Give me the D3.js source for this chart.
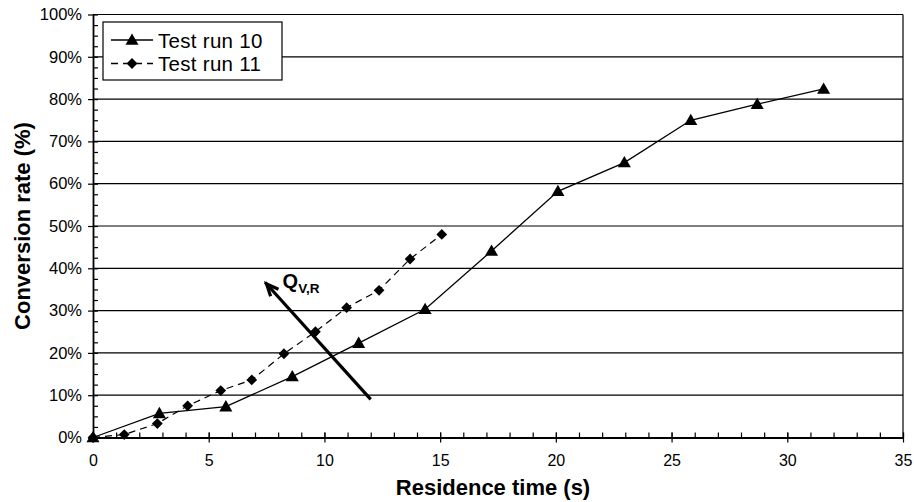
<!DOCTYPE html>
<html>
<head>
<meta charset="utf-8">
<script src="https://cdn.jsdelivr.net/npm/d3@7"></script>
<style>
  body { margin: 0; background: #fff; }
  svg { display: block; font-family: 'Liberation Sans', Arial, Helvetica, sans-serif; }
</style>
</head>
<body>
<div class="Canvas"></div>
<script>
// chart data
const run10Time = [0, 2.87, 5.74, 8.61, 11.48, 14.35, 17.22, 20.09, 22.96, 25.83, 28.7, 31.57];
const run10Conv = [0, 5.7, 7.3, 14.4, 22.3, 30.3, 44.1, 58.2, 65.0, 75.0, 78.8, 82.4];
const run11Time = [0, 1.35, 2.78, 4.09, 5.52, 6.86, 8.25, 9.61, 10.96, 12.36, 13.7, 15.07];
const run11Conv = [0, 0.7, 3.3, 7.5, 11.1, 13.6, 19.8, 25.0, 30.7, 34.8, 42.2, 48.0];
const seriesNames = ['Test run 10', 'Test run 11'];
const xTicks = [0, 5, 10, 15, 20, 25, 30, 35];
const yTicks = [0, 10, 20, 30, 40, 50, 60, 70, 80, 90, 100];
// arrow annotation (data units): from -> to
const arrowFrom = [12.0, 9.0];
const arrowTo = [7.5, 36.3];

const width = 914;
const height = 502;
const margin = { top: 14.5, right: 11, bottom: 64.5, left: 93 };
const innerW = width - margin.left - margin.right;
const innerH = height - margin.top - margin.bottom;

const svg = d3.select('.Canvas').append('svg').attr('width', width).attr('height', height);
const g = svg.append('g').attr('transform', `translate(${margin.left},${margin.top})`);

const x = d3.scaleLinear().domain([0, 35]).range([0, innerW]);
const y = d3.scaleLinear().domain([0, 100]).range([innerH, 0]);

// gridlines
g.append('g')
  .selectAll('line')
  .data(yTicks)
  .enter()
  .append('line')
  .attr('x1', 0)
  .attr('x2', innerW)
  .attr('y1', (d) => y(d))
  .attr('y2', (d) => y(d))
  .attr('stroke', '#000')
  .attr('stroke-width', 1.2);

// frame right side
g.append('line')
  .attr('x1', innerW).attr('x2', innerW)
  .attr('y1', 0).attr('y2', innerH)
  .attr('stroke', '#000').attr('stroke-width', 1.2);

// minor ticks
g.append('g')
  .attr('transform', `translate(0,${innerH})`)
  .call(d3.axisBottom(x).tickValues(d3.range(0, 36, 1)).tickSize(-5).tickFormat(''))
  .call((a) => a.select('.domain').remove());
g.append('g')
  .call(d3.axisLeft(y).tickValues(d3.range(0, 101, 2.5)).tickSize(-5).tickFormat(''))
  .call((a) => a.select('.domain').remove());

// major axes
const xAxis = g.append('g')
  .attr('transform', `translate(0,${innerH})`)
  .call(d3.axisBottom(x).tickValues(xTicks).tickSizeInner(5).tickSizeOuter(0).tickPadding(12));
xAxis.selectAll('.tick line').attr('y1', -5);
xAxis.selectAll('text').attr('font-size', '16px').attr('fill', '#000');

const yAxis = g.append('g')
  .call(d3.axisLeft(y).tickValues(yTicks).tickSizeInner(5).tickSizeOuter(0).tickPadding(6).tickFormat((d) => d + '%'));
yAxis.selectAll('text').attr('font-size', '16.5px').attr('fill', '#000');

svg.selectAll('.domain').attr('stroke-width', 1.8);
svg.selectAll('.tick line').attr('stroke-width', 1.2);

// axis titles
svg.append('text')
  .attr('x', 493)
  .attr('y', 495)
  .attr('text-anchor', 'middle')
  .attr('font-size', '22px')
  .attr('font-weight', 'bold')
  .text('Residence time (s)');
svg.append('text')
  .attr('transform', `translate(30,${margin.top + innerH / 2}) rotate(-90)`)
  .attr('text-anchor', 'middle')
  .attr('font-size', '22px')
  .attr('font-weight', 'bold')
  .text('Conversion rate (%)');

// series
const run10 = run10Time.map((t, i) => ({ t: t, c: run10Conv[i] }));
const run11 = run11Time.map((t, i) => ({ t: t, c: run11Conv[i] }));
const line = d3.line().x((d) => x(d.t)).y((d) => y(d.c));

const triangle = d3.symbol().type(d3.symbolTriangle).size(74);
const diamond = d3.symbol().type(d3.symbolSquare).size(58);

g.append('path')
  .datum(run11)
  .attr('d', line)
  .attr('fill', 'none')
  .attr('stroke', '#000')
  .attr('stroke-width', 1.2)
  .attr('stroke-dasharray', '7,5');
g.append('path')
  .datum(run10)
  .attr('d', line)
  .attr('fill', 'none')
  .attr('stroke', '#000')
  .attr('stroke-width', 1.3);

g.append('g')
  .selectAll('path')
  .data(run11)
  .enter()
  .append('path')
  .attr('d', diamond)
  .attr('transform', (d) => `translate(${x(d.t)},${y(d.c)}) rotate(45)`)
  .attr('fill', '#000');
g.append('g')
  .selectAll('path')
  .data(run10)
  .enter()
  .append('path')
  .attr('d', triangle)
  .attr('transform', (d) => `translate(${x(d.t)},${y(d.c) + 1})`)
  .attr('fill', '#000');

// arrow annotation
const ax1 = x(arrowFrom[0]), ay1 = y(arrowFrom[1]);
const ax2 = x(arrowTo[0]), ay2 = y(arrowTo[1]);
const ang = Math.atan2(ay2 - ay1, ax2 - ax1);
const headLen = 13;
const headSpread = 0.42;
g.append('line')
  .attr('x1', ax1).attr('y1', ay1)
  .attr('x2', ax2 + 2 * Math.cos(ang)).attr('y2', ay2 + 2 * Math.sin(ang))
  .attr('stroke', '#000').attr('stroke-width', 3.2);
g.append('path')
  .attr('d', `M${ax2 - headLen * Math.cos(ang - headSpread)},${ay2 - headLen * Math.sin(ang - headSpread)}` +
    `L${ax2},${ay2}` +
    `L${ax2 - headLen * Math.cos(ang + headSpread)},${ay2 - headLen * Math.sin(ang + headSpread)}`)
  .attr('fill', 'none')
  .attr('stroke', '#000')
  .attr('stroke-width', 3.2)
  .attr('stroke-linejoin', 'miter');

const qLabel = g.append('text')
  .attr('x', ax2 + 16)
  .attr('y', ay2 + 4)
  .attr('font-weight', 'bold')
  .attr('font-size', '20px');
qLabel.append('tspan').text('Q');
qLabel.append('tspan').attr('font-size', '13.5px').attr('dy', 5).text('V,R');

// legend
const legend = svg.append('g').attr('transform', 'translate(103,22)');
legend.append('rect')
  .attr('width', 179)
  .attr('height', 58)
  .attr('fill', '#fff')
  .attr('stroke', '#000')
  .attr('stroke-width', 1.2);
seriesNames.forEach((name, i) => {
  const row = legend.append('g').attr('transform', `translate(0,${18 + i * 23.5})`);
  row.append('line')
    .attr('x1', 8).attr('x2', 50)
    .attr('stroke', '#000')
    .attr('stroke-width', 1.3)
    .attr('stroke-dasharray', i === 1 ? '7,5' : null);
  row.append('path')
    .attr('d', i === 0 ? triangle : diamond)
    .attr('transform', i === 0 ? 'translate(29,1)' : 'translate(29,0) rotate(45)')
    .attr('fill', '#000');
  row.append('text')
    .attr('x', 55)
    .attr('y', 7.5)
    .attr('font-size', '20.5px')
    .attr('letter-spacing', '0.3px')
    .text(name);
});
</script>
</body>
</html>
